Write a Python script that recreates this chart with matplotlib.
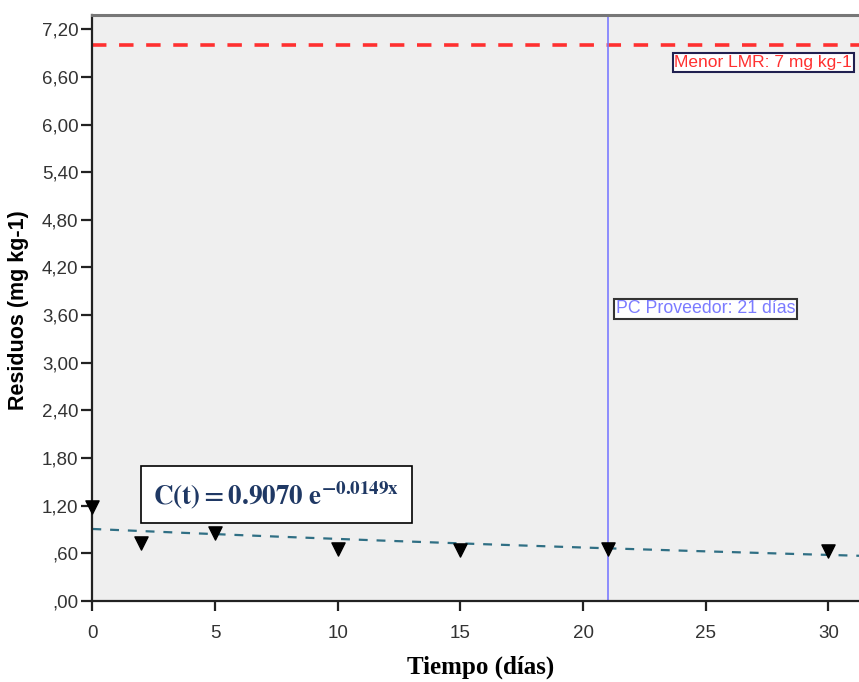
import numpy as np
import matplotlib
matplotlib.use("Agg")
import matplotlib.pyplot as plt
from matplotlib.ticker import FuncFormatter

plt.rcParams["mathtext.fontset"] = "stix"

# data
dias = [0, 2, 5, 10, 15, 21, 30]
residuos = [1.18, 0.73, 0.85, 0.65, 0.64, 0.65, 0.63]
c0, k = 0.9070, 0.0149
lmr = 7.0
pc_dias = 21
yticks = np.arange(0, 7.21, 0.6)
xticks = [0, 5, 10, 15, 20, 25, 30]

INK = "#1f3864"; TEAL = "#2f6f84"; RED = "#ff3030"; BLUE = "#7b7bff"

fig = plt.figure(figsize=(8.59, 6.82), dpi=100)
ax = fig.add_axes([0.1075, 0.1188, 0.8925, 0.8592])
ax.set_facecolor("#efefef")

ax.set_xlim(0, 31.25)
ax.set_ylim(0, 7.38)

# fitted curve
xs = np.linspace(0, 31.25, 200)
ax.plot(xs, c0 * np.exp(-k * xs), ls=(0, (4, 4)), color=TEAL, lw=1.6, zorder=2)
ax.scatter(dias, residuos, marker="v", s=90, color="black", zorder=3, clip_on=False)

# reference lines
ax.axhline(lmr, color=RED, ls=(0, (4, 3.5)), lw=2.6, zorder=2)
ax.axvline(pc_dias, color=BLUE, lw=1.2, zorder=2)

ax.text(27.35, 6.78, "Menor LMR: 7 mg kg-1", color=RED, fontsize=12.5, ha="center", va="center",
        family="Liberation Sans",
        bbox=dict(boxstyle="square,pad=0.1", fc="white", ec="#202050", lw=1.5))
ax.text(21.35, 3.68, "PC Proveedor: 21 días", color=BLUE, fontsize=12.8, ha="left", va="center",
        family="Liberation Sans",
        bbox=dict(boxstyle="square,pad=0.1", fc="white", ec="#333333", lw=1.5))

# equation box
ax.text(7.5, 1.34, r"$\mathbf{C(t) = 0.9070\ e^{-0.0149x}}$", color=INK, fontsize=19.5,
        ha="center", va="center",
        bbox=dict(boxstyle="square,pad=0.45", fc="white", ec="black", lw=1.2))

ax.set_xticks(xticks)
ax.set_yticks(yticks)
ax.yaxis.set_major_formatter(FuncFormatter(
    lambda v, p: f"{v:.2f}".replace(".", ",").lstrip("0") if v < 1 else f"{v:.2f}".replace(".", ",")))
ax.tick_params(axis="both", direction="out", colors="#222222", labelcolor="#333333",
               labelsize=13.5, width=1.6)
ax.tick_params(axis="y", length=8, pad=2)
ax.tick_params(axis="x", length=7, pad=10)
for lab in ax.get_xticklabels() + ax.get_yticklabels():
    lab.set_family("Liberation Sans")

for s in ("left", "bottom"):
    ax.spines[s].set_linewidth(1.6)
    ax.spines[s].set_color("#222222")
ax.spines["top"].set_linewidth(2.2)
ax.spines["top"].set_color("#777777")
ax.spines["right"].set_visible(False)

fig.text(0.022, 0.545, "Residuos (mg kg-1)", rotation=90, ha="center", va="center",
         fontsize=15.5, fontweight="bold", family="Liberation Sans")
fig.text(0.559, 0.022, "Tiempo (días)", ha="center", va="center", fontsize=18,
         fontweight="bold", family="Liberation Serif")

fig.savefig("out.png", dpi=100)
